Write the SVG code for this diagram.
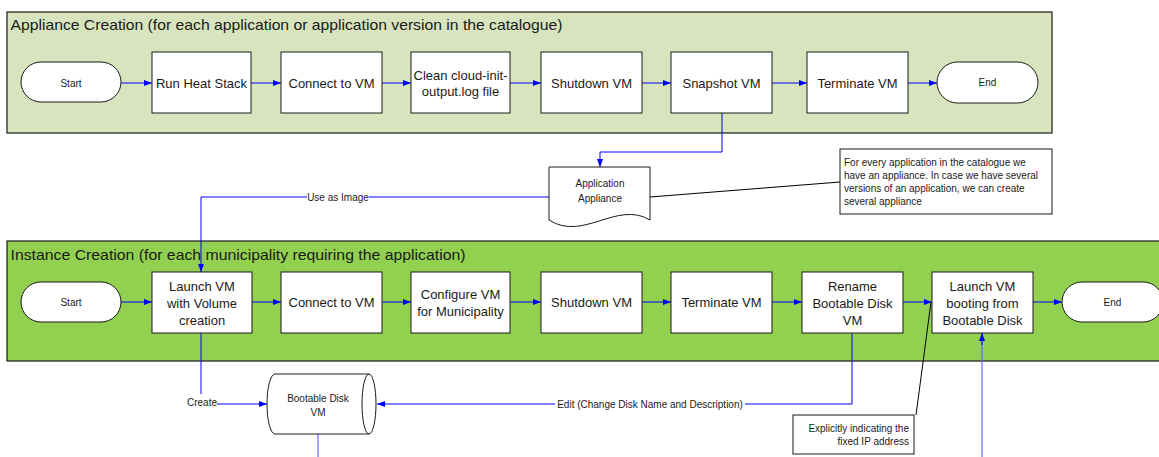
<svg xmlns="http://www.w3.org/2000/svg" width="1159" height="457" viewBox="0 0 1159 457">
<style>
.frameA{fill:#d7e4bd;stroke:#1a1a1a;stroke-width:1.2}
.frameB{fill:#92d050;stroke:#1a1a1a;stroke-width:1.2}
.box{fill:#ffffff;stroke:#1a1a1a;stroke-width:1}
.t{font-family:'Liberation Sans',Arial,sans-serif;fill:#1a1a1a}
.lbl{font-size:13px;text-anchor:middle}
.sm{font-size:10px;text-anchor:middle}
.smL{font-size:10px}
.smR{font-size:10px;text-anchor:end}
.title{font-size:15px}
.conn{fill:none;stroke:#0000ff;stroke-width:1}
.cl{fill:none;stroke:#6666ff;stroke-width:1.2}
.ann{fill:none;stroke:#000000;stroke-width:1}
</style>
<defs>
<marker id="arr" markerWidth="8" markerHeight="6" refX="8" refY="3" orient="auto" markerUnits="userSpaceOnUse">
<path d="M0,0 L8,3 L0,6 Z" fill="#0000ff"/>
</marker>
</defs>

<g id="frame-appliance">
<rect class="frameA" x="7" y="12" width="1045" height="121"/>
<text class="t title" x="10.5" y="30" textLength="552" lengthAdjust="spacingAndGlyphs">Appliance Creation (for each application or application version in the catalogue)</text>
</g>
<g id="frame-instance">
<rect class="frameB" x="7" y="241" width="1160" height="120"/>
<text class="t title" x="10.5" y="260" textLength="455" lengthAdjust="spacingAndGlyphs">Instance Creation (for each municipality requiring the application)</text>
</g>

<g id="connectors">
<path class="conn" d="M121,83 H152" marker-end="url(#arr)"/>
<path class="conn" d="M251,83 H281" marker-end="url(#arr)"/>
<path class="conn" d="M382,83 H411" marker-end="url(#arr)"/>
<path class="conn" d="M510,83 H541" marker-end="url(#arr)"/>
<path class="conn" d="M642,83 H671" marker-end="url(#arr)"/>
<path class="conn" d="M772,83 H807" marker-end="url(#arr)"/>
<path class="conn" d="M908,83 H937" marker-end="url(#arr)"/>
<path class="conn" d="M722,113 V152 H600 V167" marker-end="url(#arr)"/>
<path class="conn" d="M549,197 H369"/>
<path class="conn" d="M307,197 H201 V272" marker-end="url(#arr)"/>
<text class="t sm" x="338" y="200.5">Use as Image</text>
<path class="ann" d="M650,197 L840,182"/>
<path class="conn" d="M121,302 H152" marker-end="url(#arr)"/>
<path class="conn" d="M252,302 H281" marker-end="url(#arr)"/>
<path class="conn" d="M382,302 H411" marker-end="url(#arr)"/>
<path class="conn" d="M510,302 H541" marker-end="url(#arr)"/>
<path class="conn" d="M642,302 H671" marker-end="url(#arr)"/>
<path class="conn" d="M772,302 H802" marker-end="url(#arr)"/>
<path class="conn" d="M903,302 H932" marker-end="url(#arr)"/>
<path class="conn" d="M1033,302 H1062" marker-end="url(#arr)"/>
<path class="conn" d="M201,333 V394"/>
<text class="t sm" x="202" y="405.5">Create</text>
<path class="conn" d="M217,404 H267" marker-end="url(#arr)"/>
<path class="conn" d="M852,333 V404 H745"/>
<text class="t sm" x="650" y="407.5">Edit (Change Disk Name and Description)</text>
<path class="conn" d="M555,404 H377" marker-end="url(#arr)"/>
<path class="cl" d="M318,434 V457"/>
<path class="cl" d="M982,457 V342"/>
<path class="conn" d="M982,345 V333" marker-end="url(#arr)"/>
<path class="ann" d="M931,302 L916,415"/>
</g>

<g id="a-start"><rect class="box" x="21" y="62" width="100" height="40" rx="20" ry="20"/><text class="t sm" x="71" y="86.5">Start</text></g>
<g id="a-heat"><rect class="box" x="152" y="52" width="99" height="61"/><text class="t lbl" x="201.5" y="87.5">Run Heat Stack</text></g>
<g id="a-connect"><rect class="box" x="281" y="52" width="101" height="61"/><text class="t lbl" x="331.5" y="87.5">Connect to VM</text></g>
<g id="a-clean"><rect class="box" x="411" y="52" width="99" height="61"/><text class="t lbl" x="460.5" y="79.5">Clean cloud-init-</text><text class="t lbl" x="460.5" y="95.5">output.log file</text></g>
<g id="a-shutdown"><rect class="box" x="541" y="52" width="101" height="61"/><text class="t lbl" x="591.5" y="87.5">Shutdown VM</text></g>
<g id="a-snapshot"><rect class="box" x="671" y="52" width="101" height="61"/><text class="t lbl" x="721.5" y="87.5">Snapshot VM</text></g>
<g id="a-terminate"><rect class="box" x="807" y="52" width="101" height="61"/><text class="t lbl" x="857.5" y="87.5">Terminate VM</text></g>
<g id="a-end"><rect class="box" x="937" y="62" width="101" height="41" rx="20.5" ry="20.5"/><text class="t sm" x="987.5" y="86">End</text></g>

<g id="appliance-doc">
<path class="box" d="M549,167 H650 V220 C617,200 583,242 549,220 Z"/>
<text class="t sm" x="600" y="186.5">Application</text>
<text class="t sm" x="600" y="201.5">Appliance</text>
</g>
<g id="note-appliance">
<rect class="box" x="840" y="149" width="212" height="65"/>
<text class="t smL" x="844" y="165.5">For every application in the catalogue we</text>
<text class="t smL" x="844" y="178.5">have an appliance. In case we have several</text>
<text class="t smL" x="844" y="191.5">versions of an application, we can create</text>
<text class="t smL" x="844" y="204.5">several appliance</text>
</g>

<g id="i-start"><rect class="box" x="21" y="282" width="100" height="40" rx="20" ry="20"/><text class="t sm" x="71" y="305.5">Start</text></g>
<g id="i-launch"><rect class="box" x="152" y="272" width="100" height="61"/><text class="t lbl" x="202" y="290.5">Launch VM</text><text class="t lbl" x="202" y="307.5">with Volume</text><text class="t lbl" x="202" y="324.5">creation</text></g>
<g id="i-connect"><rect class="box" x="281" y="272" width="101" height="61"/><text class="t lbl" x="331.5" y="306.5">Connect to VM</text></g>
<g id="i-configure"><rect class="box" x="411" y="272" width="99" height="61"/><text class="t lbl" x="460.5" y="298.5">Configure VM</text><text class="t lbl" x="460.5" y="315.5">for Municipality</text></g>
<g id="i-shutdown"><rect class="box" x="541" y="272" width="101" height="61"/><text class="t lbl" x="591.5" y="306.5">Shutdown VM</text></g>
<g id="i-terminate"><rect class="box" x="671" y="272" width="101" height="61"/><text class="t lbl" x="721.5" y="306.5">Terminate VM</text></g>
<g id="i-rename"><rect class="box" x="802" y="272" width="101" height="61"/><text class="t lbl" x="852.5" y="290.5">Rename</text><text class="t lbl" x="852.5" y="307.5">Bootable Disk</text><text class="t lbl" x="852.5" y="324.5">VM</text></g>
<g id="i-launchboot"><rect class="box" x="932" y="272" width="101" height="61"/><text class="t lbl" x="982.5" y="290.5">Launch VM</text><text class="t lbl" x="982.5" y="307.5">booting from</text><text class="t lbl" x="982.5" y="324.5">Bootable Disk</text></g>
<g id="i-end"><rect class="box" x="1062" y="282" width="101" height="40" rx="20" ry="20"/><text class="t sm" x="1112.5" y="305.5">End</text></g>

<g id="bootable-disk">
<path class="box" d="M275,374 H369 A7,30 0 0 1 369,434 H275 A8,30 0 0 1 275,374 Z"/>
<path class="box" style="fill:none" d="M369,374 A7,30 0 0 0 369,434"/>
<text class="t sm" x="318" y="401.5">Bootable Disk</text>
<text class="t sm" x="318" y="415.5">VM</text>
</g>
<g id="note-ip">
<rect class="box" x="793" y="415" width="121" height="39"/>
<text class="t smR" x="909" y="431.5">Explicitly indicating the</text>
<text class="t smR" x="909" y="444.5">fixed IP address</text>
</g>
</svg>
